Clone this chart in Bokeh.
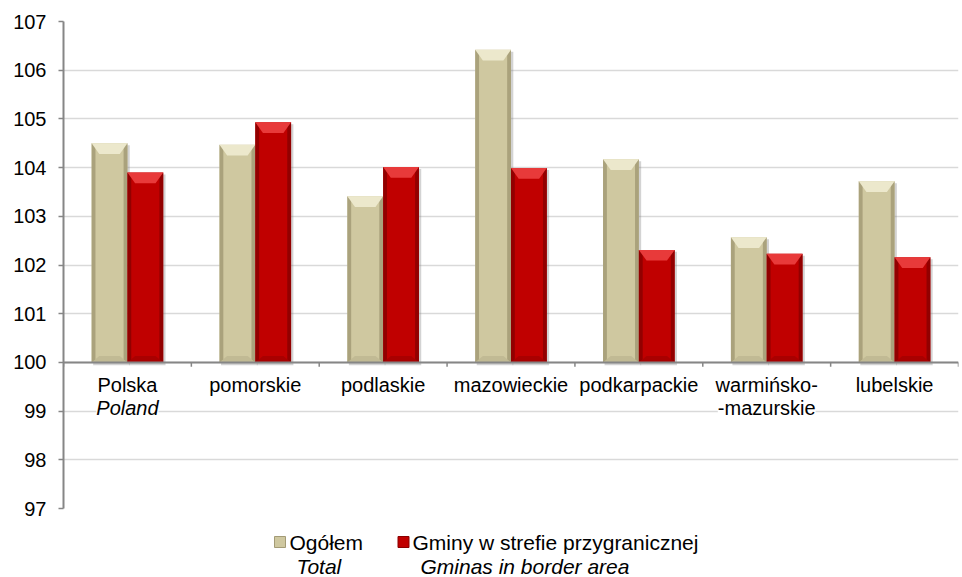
from bokeh.plotting import figure
from bokeh.models import Range1d, FixedTicker, Span
from bokeh.layouts import column
from bokeh.core.properties import value
from bokeh.embed import file_html
from bokeh.resources import INLINE

# ---------------- data ----------------
cat_line1 = ["Polska", "pomorskie", "podlaskie", "mazowieckie", "podkarpackie", "warmińsko-", "lubelskie"]
cat_line2 = ["Poland", "", "", "", "", "-mazurskie", ""]
cat_line2_italic = [True, False, False, False, False, False, False]
total = [104.50, 104.47, 103.41, 106.42, 104.17, 102.57, 103.72]      # Ogółem / Total
border = [103.90, 104.93, 104.01, 103.99, 102.31, 102.23, 102.16]     # Gminy w strefie przygranicznej
y_ticks = [97, 98, 99, 100, 101, 102, 103, 104, 105, 106, 107]
base = 100
series_names = ["Ogółem", "Gminy w strefie przygranicznej"]
series_names_en = ["Total", "Gminas in border area"]

FONT = "Liberation Sans"
beige = dict(main="#CFC8A0", top="#ECE8CC", side="#A39B76", bottom="#BBB48E")
red = dict(main="#C00000", top="#E83A3A", side="#8A0000", bottom="#A00000")

W = 962
MAIN_H = 520
LEG_H = 577 - MAIN_H
FRAME_L, FRAME_R = 63, 958

p = figure(width=W, height=MAIN_H, x_range=Range1d(0, 7), y_range=Range1d(97, 107),
           output_backend="svg", toolbar_location=None, x_axis_location=None,
           min_border_left=FRAME_L, min_border_right=W - FRAME_R, min_border_top=21, min_border_bottom=12)
p.outline_line_color = None
p.xgrid.visible = False
p.ygrid.grid_line_color = "#D9D9D9"
p.ygrid.grid_line_width = 1.5
yax = p.yaxis[0]
yax.ticker = FixedTicker(ticks=y_ticks)
yax.major_label_text_font = FONT
yax.major_label_text_font_size = "20px"
yax.major_label_text_color = "#000000"
yax.major_label_standoff = 12
yax.axis_line_color = "#868686"
yax.axis_line_width = 2
yax.major_tick_line_color = "#868686"
yax.major_tick_line_width = 1.5
yax.major_tick_out = 5
yax.major_tick_in = 0
yax.minor_tick_line_color = None

BW = 0.28        # bar width (fraction of category)
BDX = 0.06       # bevel horizontal size
BDY = 0.22       # bevel vertical size
SIDE = 0.03

def draw_bars(vals, offset, col):
    x0 = [i + 0.5 + offset for i in range(len(vals))]
    x1 = [a + BW for a in x0]
    # shadow
    p.quad(left=[a + 0.012 for a in x0], right=[b + 0.018 for b in x1],
           bottom=[base - 0.06] * len(vals), top=[v - 0.04 for v in vals],
           fill_color="#808080", fill_alpha=0.35, line_color=None)
    # body
    p.quad(left=x0, right=x1, bottom=[base] * len(vals), top=vals,
           fill_color=col["main"], line_color=None)
    sx, sy, tx, ty, bx, by = [], [], [], [], [], []
    for a, b, v in zip(x0, x1, vals):
        sx.append([a, a + SIDE, a + SIDE, a]); sy.append([base, base + 0.06, v - 0.06, v])
        sx.append([b, b - SIDE, b - SIDE, b]); sy.append([base, base + 0.06, v - 0.06, v])
        tx.append([a, b, b - BDX, a + BDX]); ty.append([v, v, v - BDY, v - BDY])
        bx.append([a, b, b - BDX, a + BDX]); by.append([base, base, base + BDY * 0.6, base + BDY * 0.6])
    p.patches(sx, sy, fill_color=col["side"], fill_alpha=0.85, line_color=None)
    p.patches(bx, by, fill_color=col["bottom"], fill_alpha=0.7, line_color=None)
    p.patches(tx, ty, fill_color=col["top"], line_color=None)

draw_bars(total, -BW, beige)
draw_bars(border, 0.0, red)

# category axis at 100
p.add_layout(Span(location=base, dimension="width", line_color="#868686", line_width=2))
p.segment(x0=list(range(len(total) + 1)), y0=[base] * (len(total) + 1),
          x1=list(range(len(total) + 1)), y1=[base - 0.09] * (len(total) + 1),
          line_color="#868686", line_width=1.5)

cx = [i + 0.5 for i in range(len(cat_line1))]
p.text(x=cx, y=[base] * len(cx), text=cat_line1, y_offset=23,
       text_align="center", text_baseline="middle",
       text_font=value(FONT), text_font_size="20px", text_color="#000000")
it_x = [c for c, t, f in zip(cx, cat_line2, cat_line2_italic) if t and f]
it_t = [t for t, f in zip(cat_line2, cat_line2_italic) if t and f]
no_x = [c for c, t, f in zip(cx, cat_line2, cat_line2_italic) if t and not f]
no_t = [t for t, f in zip(cat_line2, cat_line2_italic) if t and not f]
p.text(x=it_x, y=[base] * len(it_x), text=it_t, y_offset=46,
       text_align="center", text_baseline="middle", text_font_style="italic",
       text_font=value(FONT), text_font_size="20px", text_color="#000000",
       background_fill_color="white")
p.text(x=no_x, y=[base] * len(no_x), text=no_t, y_offset=46,
       text_align="center", text_baseline="middle",
       text_font=value(FONT), text_font_size="20px", text_color="#000000",
       background_fill_color="white")

# ---------------- legend figure (its frame is aligned with the main frame) ----------------
leg = figure(width=W, height=LEG_H, x_range=Range1d(FRAME_L, FRAME_R), y_range=Range1d(LEG_H, 0),
             output_backend="svg", toolbar_location=None,
             x_axis_location=None, y_axis_location=None,
             min_border=0)
leg.outline_line_color = None
leg.xgrid.visible = False
leg.ygrid.visible = False

sq_x = [279.5, 403]
txt_x = [289, 412]
en_x = [296, 420]
leg.scatter(x=sq_x, y=[21.5, 21.5], marker="square", size=11,
            fill_color=[beige["main"], red["main"]], line_color=[beige["side"], red["side"]], line_width=1)
leg.text(x=txt_x, y=[22, 22], text=series_names, text_baseline="middle",
         text_font=value(FONT), text_font_size="21px", text_color="#000000")
leg.text(x=en_x, y=[46, 46], text=series_names_en, text_baseline="middle",
         text_font=value(FONT), text_font_size="21px", text_font_style="italic", text_color="#000000")

layout = column(p, leg, spacing=0)
open("out.html", "w").write(file_html(layout, INLINE))
